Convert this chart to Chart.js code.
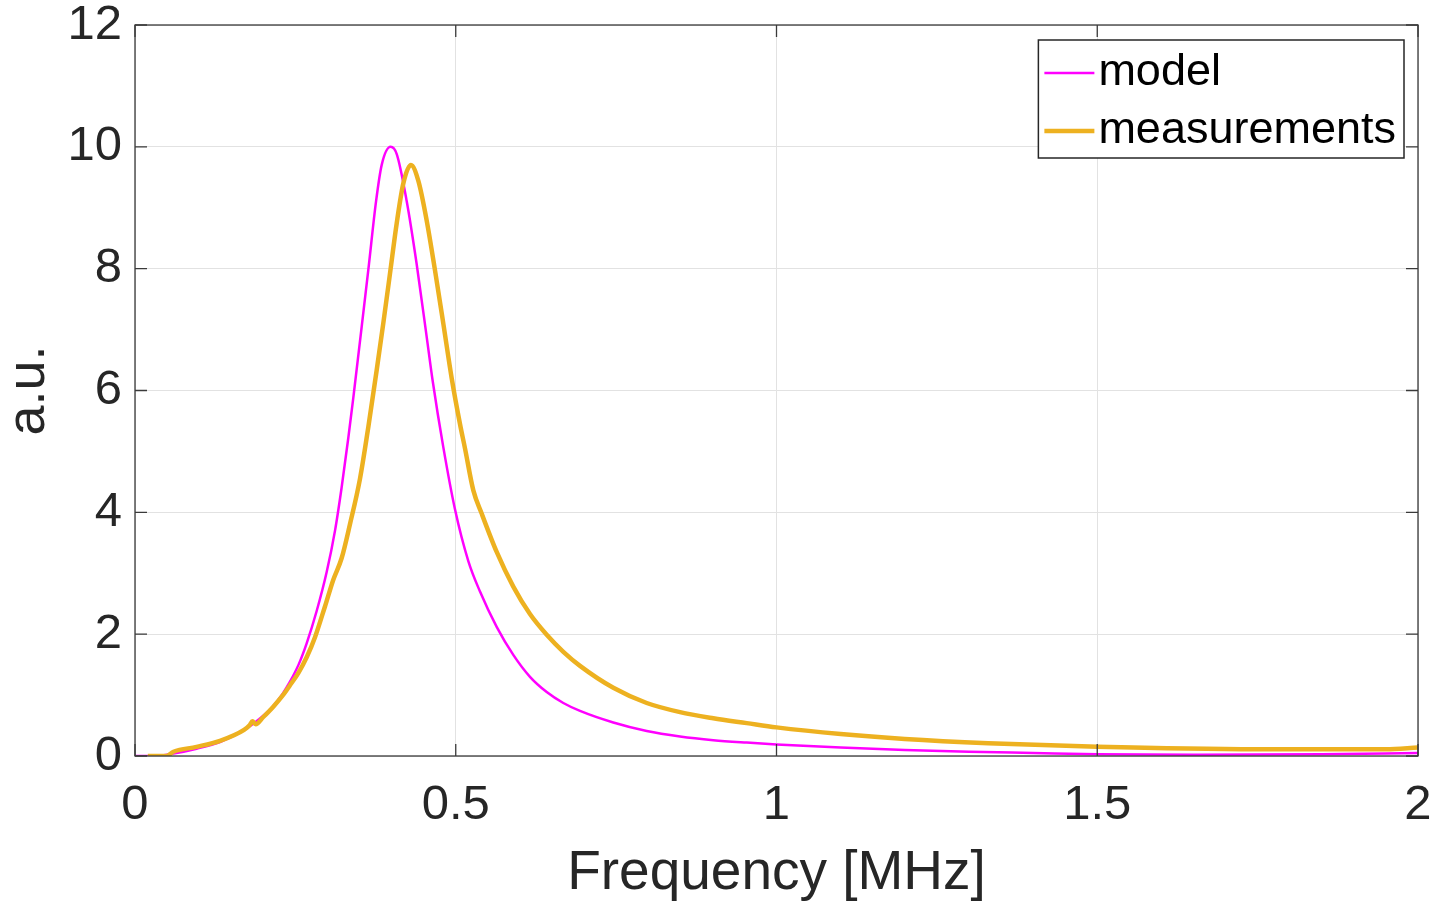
<!DOCTYPE html>
<html>
<head>
<meta charset="utf-8">
<title>model vs measurements</title>
<script src="https://cdn.jsdelivr.net/npm/chart.js@4.4.1/dist/chart.umd.min.js"></script>
<style>
    html, body { margin: 0; padding: 0; background: #fff; }
    #wrap { width: 1439px; height: 904px; }
</style>
</head>
<body>
<div id="wrap"><canvas id="freqChart" width="1439" height="904"></canvas></div>
<script>
// values
const modelFreq = [0, 0.03, 0.06, 0.096, 0.1325, 0.169, 0.1844, 0.2, 0.2156, 0.23, 0.2416, 0.255, 0.2676, 0.2832, 0.2988, 0.3118, 0.322, 0.3325, 0.3403, 0.3534, 0.3637, 0.3757, 0.3845, 0.3984, 0.408, 0.4235, 0.439, 0.4547, 0.464, 0.4806, 0.4988, 0.5196, 0.5378, 0.5638, 0.5897, 0.6157, 0.6418, 0.6677, 0.6937, 0.7456, 0.7977, 0.8496, 0.9015, 0.9536, 1.0, 1.1, 1.2, 1.3, 1.4, 1.5, 1.65, 1.85, 2.0];
const modelAmp = [0, 0, 0.04, 0.12, 0.23, 0.42, 0.53, 0.66, 0.82, 1.02, 1.22, 1.50, 1.85, 2.38, 3.02, 3.70, 4.40, 5.22, 5.88, 7.05, 7.98, 9.10, 9.70, 10.0, 9.88, 9.11, 8.08, 6.88, 6.16, 5.07, 4.05, 3.20, 2.70, 2.12, 1.66, 1.30, 1.05, 0.87, 0.74, 0.55, 0.41, 0.32, 0.26, 0.22, 0.19, 0.14, 0.10, 0.07, 0.05, 0.03, 0.02, 0.03, 0.05];

const measFreq = [0.02, 0.049, 0.06, 0.096, 0.1325, 0.17, 0.179, 0.183, 0.188, 0.2, 0.2156, 0.23, 0.2416, 0.255, 0.2676, 0.2806, 0.296, 0.309, 0.3222, 0.335, 0.3507, 0.3637, 0.3767, 0.387, 0.3975, 0.4079, 0.4183, 0.4302, 0.4417, 0.4547, 0.4677, 0.4806, 0.4937, 0.5066, 0.5144, 0.5274, 0.5404, 0.5638, 0.5897, 0.6157, 0.6418, 0.6677, 0.6937, 0.7456, 0.7977, 0.8496, 0.9015, 0.9536, 1.0, 1.1, 1.2, 1.33, 1.5, 1.75, 1.95, 2.0];
const measAmp = [0, 0, 0.07, 0.15, 0.25, 0.43, 0.51, 0.57, 0.52, 0.64, 0.81, 0.99, 1.16, 1.37, 1.62, 1.95, 2.45, 2.89, 3.25, 3.80, 4.55, 5.40, 6.33, 7.10, 7.92, 8.74, 9.40, 9.70, 9.44, 8.79, 7.97, 7.10, 6.20, 5.45, 5.05, 4.36, 3.98, 3.35, 2.78, 2.33, 1.99, 1.71, 1.48, 1.12, 0.87, 0.72, 0.62, 0.54, 0.47, 0.36, 0.28, 0.21, 0.15, 0.11, 0.11, 0.14];

const xTickValues = [0, 0.5, 1, 1.5, 2];
const yTickValues = [0, 2, 4, 6, 8, 10, 12];

const textColor = '#262626';
const fontFamily = '"Liberation Sans", Arial, Helvetica, sans-serif';

function toPoints(xs, ys) {
    return xs.map((x, i) => ({ x, y: ys[i] }));
}

// MATLAB-like box, inward ticks and legend
const matlabFrame = {
    id: 'matlabFrame',
    afterDatasetsDraw(chart) {
        const { ctx, chartArea: ca, scales } = chart;
        const tickLen = 12;
        ctx.save();
        ctx.strokeStyle = '#3a3a3a';
        ctx.lineWidth = 1.3;
        ctx.strokeRect(ca.left, ca.top, ca.right - ca.left, ca.bottom - ca.top);
        ctx.beginPath();
        scales.x.ticks.forEach(t => {
            const px = scales.x.getPixelForValue(t.value);
            ctx.moveTo(px, ca.bottom); ctx.lineTo(px, ca.bottom - tickLen);
            ctx.moveTo(px, ca.top); ctx.lineTo(px, ca.top + tickLen);
        });
        scales.y.ticks.forEach(t => {
            const py = scales.y.getPixelForValue(t.value);
            ctx.moveTo(ca.left, py); ctx.lineTo(ca.left + tickLen, py);
            ctx.moveTo(ca.right, py); ctx.lineTo(ca.right - tickLen, py);
        });
        ctx.stroke();

        // legend box
        ctx.font = '45px ' + fontFamily;
        const labels = chart.data.datasets.map(d => d.label);
        const textW = Math.max(...labels.map(l => ctx.measureText(l).width));
        const rowH = 58;
        const boxW = 6 + 50 + 4 + textW + 8;
        const boxH = rowH * labels.length + 2;
        const bx = ca.right - 14 - boxW;
        const by = ca.top + 15;
        ctx.fillStyle = '#fff';
        ctx.fillRect(bx, by, boxW, boxH);
        ctx.strokeStyle = '#262626';
        ctx.lineWidth = 1.5;
        ctx.strokeRect(bx, by, boxW, boxH);
        chart.data.datasets.forEach((d, i) => {
            const cy = by + 33 + i * rowH;
            ctx.strokeStyle = d.borderColor;
            ctx.lineWidth = d.borderWidth;
            ctx.beginPath();
            ctx.moveTo(bx + 6, cy);
            ctx.lineTo(bx + 56, cy);
            ctx.stroke();
            ctx.fillStyle = '#000';
            ctx.textBaseline = 'middle';
            ctx.textAlign = 'left';
            ctx.fillText(d.label, bx + 60, cy);
        });
        ctx.restore();
    }
};

const ctx = document.getElementById('freqChart').getContext('2d');
new Chart(ctx, {
    type: 'scatter',
    data: {
        datasets: [
            {
                label: 'model',
                data: toPoints(modelFreq, modelAmp),
                showLine: true,
                borderColor: '#ff00ff',
                backgroundColor: '#ff00ff',
                borderWidth: 2.5,
                pointRadius: 0,
                cubicInterpolationMode: 'monotone',
                order: 2
            },
            {
                label: 'measurements',
                data: toPoints(measFreq, measAmp),
                showLine: true,
                borderColor: '#edb120',
                backgroundColor: '#edb120',
                borderWidth: 4.5,
                pointRadius: 0,
                cubicInterpolationMode: 'monotone',
                order: 1
            }
        ]
    },
    options: {
        responsive: false,
        animation: false,
        layout: { padding: { top: 25, right: 21, left: 0, bottom: 0 } },
        plugins: {
            legend: { display: false },
            tooltip: { enabled: false }
        },
        scales: {
            x: {
                type: 'linear',
                min: 0,
                max: 2,
                afterBuildTicks: s => { s.ticks = xTickValues.map(v => ({ value: v })); },
                afterFit: s => { s.height = 148; s.paddingLeft = 0; s.paddingRight = 0; },
                grid: { color: '#e2e2e2', lineWidth: 1, drawTicks: false },
                border: { display: false },
                ticks: {
                    color: textColor,
                    padding: 20,
                    maxRotation: 0,
                    callback: v => String(v),
                    font: { family: fontFamily, size: 49 }
                },
                title: {
                    display: true,
                    text: 'Frequency [MHz]',
                    color: textColor,
                    padding: { top: 0, bottom: 3 },
                    font: { family: fontFamily, size: 55, lineHeight: 1 }
                }
            },
            y: {
                type: 'linear',
                min: 0,
                max: 12,
                afterBuildTicks: s => { s.ticks = yTickValues.map(v => ({ value: v })); },
                afterFit: s => { s.width = 135; s.paddingTop = 0; s.paddingBottom = 0; },
                grid: { color: '#e2e2e2', lineWidth: 1, drawTicks: false },
                border: { display: false },
                ticks: {
                    color: textColor,
                    padding: 13,
                    callback: v => String(v),
                    font: { family: fontFamily, size: 49 }
                },
                title: {
                    display: true,
                    text: 'a.u.',
                    color: textColor,
                    padding: { top: 2, bottom: 0 },
                    font: { family: fontFamily, size: 54, lineHeight: 1 }
                }
            }
        }
    },
    plugins: [matlabFrame]
});
</script>
</body>
</html>
